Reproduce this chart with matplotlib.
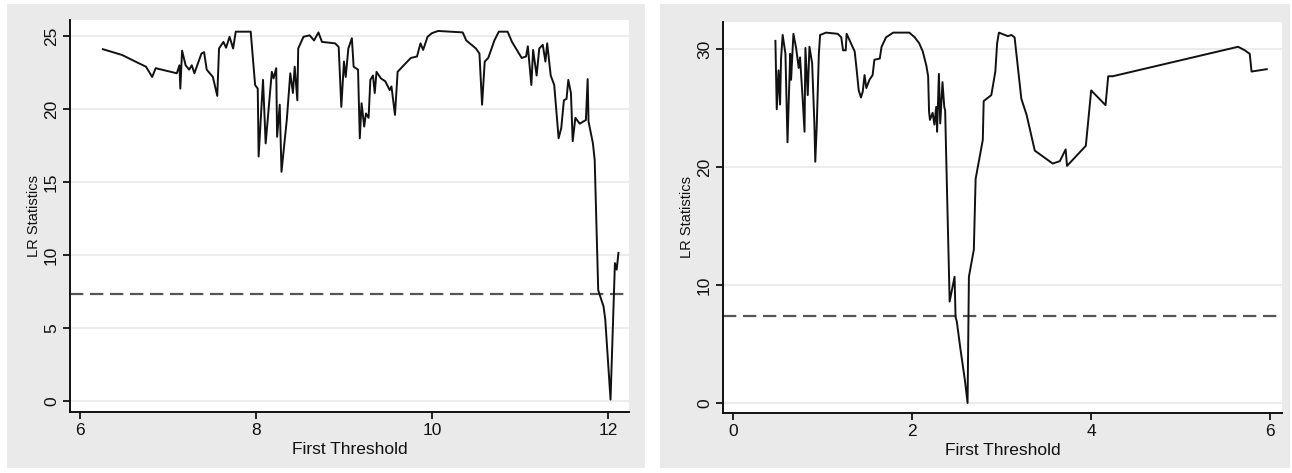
"""Two LR statistic plots for the first threshold (Stata style)."""
import matplotlib
matplotlib.use("Agg")
import matplotlib.pyplot as plt
from matplotlib.patches import Rectangle
from matplotlib import font_manager

# left panel: threshold values and LR statistics
left_x = [6.26, 6.48, 6.63, 6.75, 6.82, 6.86, 7.10, 7.13, 7.14, 7.16, 7.20, 7.24, 7.27, 7.30,
          7.38, 7.41, 7.44, 7.51, 7.56, 7.58, 7.63, 7.66, 7.70, 7.74, 7.77, 7.94, 7.99, 8.02,
          8.03, 8.08, 8.11, 8.18, 8.20, 8.23, 8.24, 8.27, 8.29, 8.35, 8.39, 8.42, 8.44, 8.47,
          8.48, 8.54, 8.61, 8.66, 8.71, 8.75, 8.90, 8.94, 8.97, 9.00, 9.02, 9.05, 9.09, 9.11,
          9.16, 9.18, 9.20, 9.23, 9.25, 9.28, 9.30, 9.33, 9.35, 9.37, 9.42, 9.47, 9.52, 9.54,
          9.58, 9.61, 9.68, 9.76, 9.83, 9.87, 9.90, 9.95, 10.00, 10.07, 10.35, 10.39, 10.50,
          10.54, 10.57, 10.60, 10.64, 10.71, 10.76, 10.86, 10.91, 11.02, 11.07, 11.09, 11.13,
          11.15, 11.19, 11.22, 11.26, 11.29, 11.31, 11.35, 11.39, 11.44, 11.47, 11.50, 11.53,
          11.55, 11.58, 11.60, 11.63, 11.68, 11.75, 11.77, 11.78, 11.83, 11.85, 11.89, 11.93,
          11.95, 11.97, 12.03, 12.08, 12.10, 12.12]
left_lr = [24.1, 23.7, 23.25, 22.9, 22.2, 22.8, 22.45, 23.0, 21.4, 24.0, 23.0, 22.7, 23.0, 22.45,
           23.8, 23.9, 22.7, 22.2, 20.9, 24.15, 24.6, 24.2, 24.95, 24.15, 25.3, 25.3, 21.65, 21.4,
           16.75, 22.0, 17.65, 22.55, 22.1, 22.8, 18.1, 20.3, 15.7, 19.25, 22.45, 21.1, 22.9, 20.6,
           24.15, 24.95, 25.05, 24.7, 25.25, 24.6, 24.5, 24.25, 20.15, 23.25, 22.2, 24.15, 24.85, 22.9,
           22.7, 18.0, 20.4, 18.8, 19.7, 19.4, 22.0, 22.3, 21.1, 22.55, 22.1, 21.9, 21.3, 21.55,
           19.6, 22.55, 23.0, 23.5, 23.6, 24.5, 24.05, 24.95, 25.2, 25.35, 25.25, 24.7, 24.15,
           23.8, 20.3, 23.25, 23.5, 24.7, 25.3, 25.3, 24.6, 23.5, 23.6, 24.3, 21.65,
           24.05, 22.3, 24.15, 24.4, 23.25, 24.5, 22.3, 21.65, 18.0, 18.7, 20.6, 20.7,
           22.0, 21.1, 17.8, 19.4, 19.0, 19.25, 22.05, 19.15, 17.65, 16.5, 7.6, 6.85,
           6.5, 5.6, 0.1, 9.45, 9.0, 10.15]

# right panel
right_x = [0.475, 0.49, 0.51, 0.527, 0.538, 0.556, 0.587, 0.61, 0.64, 0.65, 0.676, 0.706, 0.735,
           0.75, 0.78, 0.80, 0.81, 0.836, 0.855, 0.885, 0.91, 0.92, 0.936, 0.96, 0.974, 1.04,
           1.17, 1.21, 1.23, 1.26, 1.27, 1.30, 1.36, 1.38, 1.405, 1.43, 1.45, 1.47, 1.49, 1.525,
           1.56, 1.58, 1.64, 1.66, 1.71, 1.79, 1.97, 2.03, 2.08, 2.12, 2.16, 2.18, 2.19, 2.20,
           2.23, 2.25, 2.27, 2.28, 2.30, 2.315, 2.34, 2.36, 2.37, 2.38, 2.42, 2.475, 2.486, 2.50,
           2.54, 2.59, 2.62, 2.635, 2.69, 2.71, 2.79, 2.80, 2.885, 2.93, 2.95, 2.97, 3.07, 3.11,
           3.145, 3.22, 3.28, 3.37, 3.57, 3.65, 3.715, 3.73, 3.94, 4.00, 4.16, 4.19, 4.24, 5.64,
           5.715, 5.77, 5.79, 5.96]
right_lr = [30.7, 24.9, 28.2, 25.3, 29.2, 31.2, 29.6, 22.1, 29.6, 27.4, 31.3, 30.1, 28.4,
            29.3, 25.7, 23.0, 30.1, 26.1, 30.2, 28.8, 23.7, 20.45, 23.4, 29.6, 31.2, 31.4,
            31.3, 31.0, 29.9, 29.9, 31.3, 30.8, 29.8, 28.4, 26.5, 25.9, 26.4, 27.8, 26.7, 27.4,
            27.8, 29.1, 29.2, 30.2, 31.0, 31.4, 31.4, 31.0, 30.5, 29.8, 28.6, 27.7, 24.7, 24.0,
            24.6, 23.6, 25.1, 23.0, 27.9, 23.7, 27.2, 25.1, 24.8, 21.4, 8.6, 10.7, 7.3, 6.9,
            4.6, 1.95, 0.0, 10.7, 13.0, 19.0, 22.3, 25.6, 26.1, 28.1, 30.5, 31.4, 31.1, 31.2,
            31.0, 25.8, 24.4, 21.4, 20.3, 20.5, 21.5, 20.1, 21.8, 26.5, 25.25, 27.7, 27.7, 30.2,
            29.9, 29.6, 28.1, 28.3]

crit_value = 7.35
left_xticks = [6, 8, 10, 12]
left_yticks = [0, 5, 10, 15, 20, 25]
right_xticks = [0, 2, 4, 6]
right_yticks = [0, 10, 20, 30]

names = {f.name for f in font_manager.fontManager.ttflist}
tick_font = "Liberation Sans Narrow" if "Liberation Sans Narrow" in names else "Liberation Sans"

W, H = 1292, 473
fig = plt.figure(figsize=(W / 100, H / 100), dpi=100, facecolor="white")

# gray graph regions
for x0, x1 in [(7, 645), (660, 1290)]:
    fig.patches.append(Rectangle((x0 / W, 1 - 468 / H), (x1 - x0) / W, (468 - 4) / H,
                                 transform=fig.transFigure, facecolor="#eaeaea",
                                 edgecolor="none", zorder=-5))


def panel(box, xs, ys, xlim, ylim, xticks, yticks):
    l, t, r, b = box
    ax = fig.add_axes([l / W, 1 - b / H, (r - l) / W, (b - t) / H])
    ax.set_zorder(2)
    ax.set_facecolor("white")
    ax.plot(xs, ys, color="#111111", lw=1.4, zorder=3)
    ax.axhline(crit_value, color="#555555", lw=1.6, ls=(0, (6, 3)), zorder=2)
    for v in yticks:
        ax.axhline(v, color="#ececec", lw=1.5, zorder=1)
    ax.set_xlim(*xlim)
    ax.set_ylim(*ylim)
    ax.set_xticks(xticks)
    ax.set_yticks(yticks)
    ax.set_yticklabels([str(v) for v in yticks], rotation=90, va="center")
    for s in ["top", "right"]:
        ax.spines[s].set_visible(False)
    for s in ["left", "bottom"]:
        ax.spines[s].set_color("#111111")
        ax.spines[s].set_linewidth(1.4)
    ax.tick_params(direction="out", length=5, width=1.3, color="#111111", labelsize=12.5,
                   pad=3)
    for lab in ax.get_xticklabels() + ax.get_yticklabels():
        lab.set_family(tick_font)
        lab.set_color("#111111")
    ax.set_xlabel("First Threshold", family=tick_font, fontsize=12.5, color="#111111",
                  labelpad=3)
    ax.set_ylabel("LR Statistics", family="Liberation Sans", fontsize=10.5,
                  color="#111111", labelpad=2)
    return ax


panel((70, 20, 629, 412), left_x, left_lr, (5.886, 12.24), (-0.75, 26.1),
      left_xticks, left_yticks)
panel((723, 22, 1282, 413), right_x, right_lr, (-0.11, 6.13), (-0.85, 32.3),
      right_xticks, right_yticks)

fig.savefig("out.png", dpi=100, facecolor="white")
